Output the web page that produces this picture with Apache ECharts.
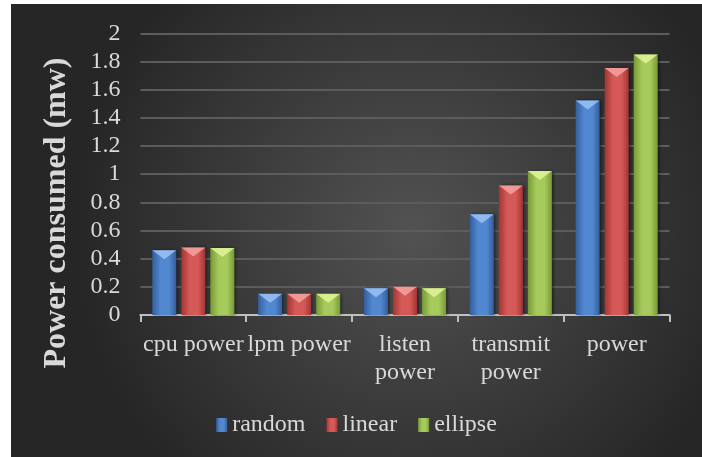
<!DOCTYPE html>
<html>
<head>
<meta charset="utf-8">
<script src="https://cdn.jsdelivr.net/npm/echarts@6/dist/echarts.min.js"></script>
<style>
html,body{margin:0;padding:0;background:#ffffff;width:702px;height:457px;overflow:hidden;}
#chart{position:absolute;left:11px;top:4px;width:691px;height:453px;}
</style>
</head>
<body>
<div id="chart"></div>
<script>
var categories = ['cpu power', 'lpm power', 'listen\npower', 'transmit\npower', 'power'];
var seriesNames = ['random', 'linear', 'ellipse'];
var randomValues = [0.46, 0.15, 0.19, 0.716, 1.523];
var linearValues = [0.48, 0.15, 0.20, 0.92, 1.754];
var ellipseValues = [0.475, 0.15, 0.19, 1.023, 1.849];
var yTicks = {min: 0, max: 2, interval: 0.2};

var FONT = 'Liberation Serif';
var palette = [
  {edge: '#335e9c', mid: '#5288d0', cap: '#9cc2f2'},
  {edge: '#a23533', mid: '#d55a57', cap: '#f4a3a0'},
  {edge: '#779a35', mid: '#a6ca5b', cap: '#e0f59a'}
];
var allValues = [randomValues, linearValues, ellipseValues];

function bodyGradient(p) {
  return new echarts.graphic.LinearGradient(0, 0, 1, 0, [
    {offset: 0, color: p.edge},
    {offset: 0.35, color: p.mid},
    {offset: 0.7, color: p.mid},
    {offset: 1, color: p.edge}
  ]);
}

var series = [];
allValues.forEach(function (vals, i) {
  series.push({
    name: seriesNames[i],
    type: 'bar',
    data: vals,
    barWidth: 24,
    barGap: '21%',
    itemStyle: {
      color: bodyGradient(palette[i]),
      shadowColor: 'rgba(0,0,0,0.5)',
      shadowBlur: 3,
      shadowOffsetX: 2
    },
    z: 2
  });
});
allValues.forEach(function (vals, i) {
  series.push({
    name: seriesNames[i] + '-cap',
    type: 'pictorialBar',
    data: vals,
    barWidth: 24,
    barGap: '21%',
    symbol: 'triangle',
    symbolRotate: 180,
    symbolPosition: 'end',
    symbolSize: [24, 9],
    itemStyle: {color: palette[i].cap, opacity: 0.85},
    z: 3,
    silent: true
  });
});

var chart = echarts.init(document.getElementById('chart'));
chart.setOption({
  animation: false,
  backgroundColor: new echarts.graphic.RadialGradient(0.58, 0.5, 0.75, [
    {offset: 0, color: '#525252'},
    {offset: 1, color: '#262626'}
  ]),
  textStyle: {fontFamily: FONT},
  grid: {left: 129.4, right: 32.4, top: 29.3, bottom: 142},
  legend: {
    data: seriesNames,
    top: 404,
    left: 'center',
    itemWidth: 11,
    itemHeight: 14,
    itemGap: 21,
    icon: 'rect',
    textStyle: {color: '#d9d9d9', fontFamily: FONT, fontSize: 24}
  },
  xAxis: {
    type: 'category',
    data: categories,
    axisLine: {lineStyle: {color: '#bfbfbf', width: 2}},
    axisTick: {show: true, length: 7, lineStyle: {color: '#bfbfbf', width: 2}},
    axisLabel: {color: '#d9d9d9', fontFamily: FONT, fontSize: 24, margin: 16, lineHeight: 28, interval: 0}
  },
  yAxis: {
    type: 'value',
    min: yTicks.min,
    max: yTicks.max,
    interval: yTicks.interval,
    axisLine: {show: false},
    axisTick: {show: false},
    splitLine: {lineStyle: {color: '#5c5c5c', width: 2}},
    axisLabel: {color: '#d9d9d9', fontFamily: FONT, fontSize: 24, margin: 20}
  },
  graphic: [{
    type: 'text',
    x: 46,
    y: 209,
    rotation: Math.PI / 2,
    style: {
      text: 'Power consumed (mw)',
      fill: '#d9d9d9',
      font: 'bold 32px "Liberation Serif"',
      align: 'center',
      verticalAlign: 'middle'
    }
  }],
  series: series
});
</script>
</body>
</html>
